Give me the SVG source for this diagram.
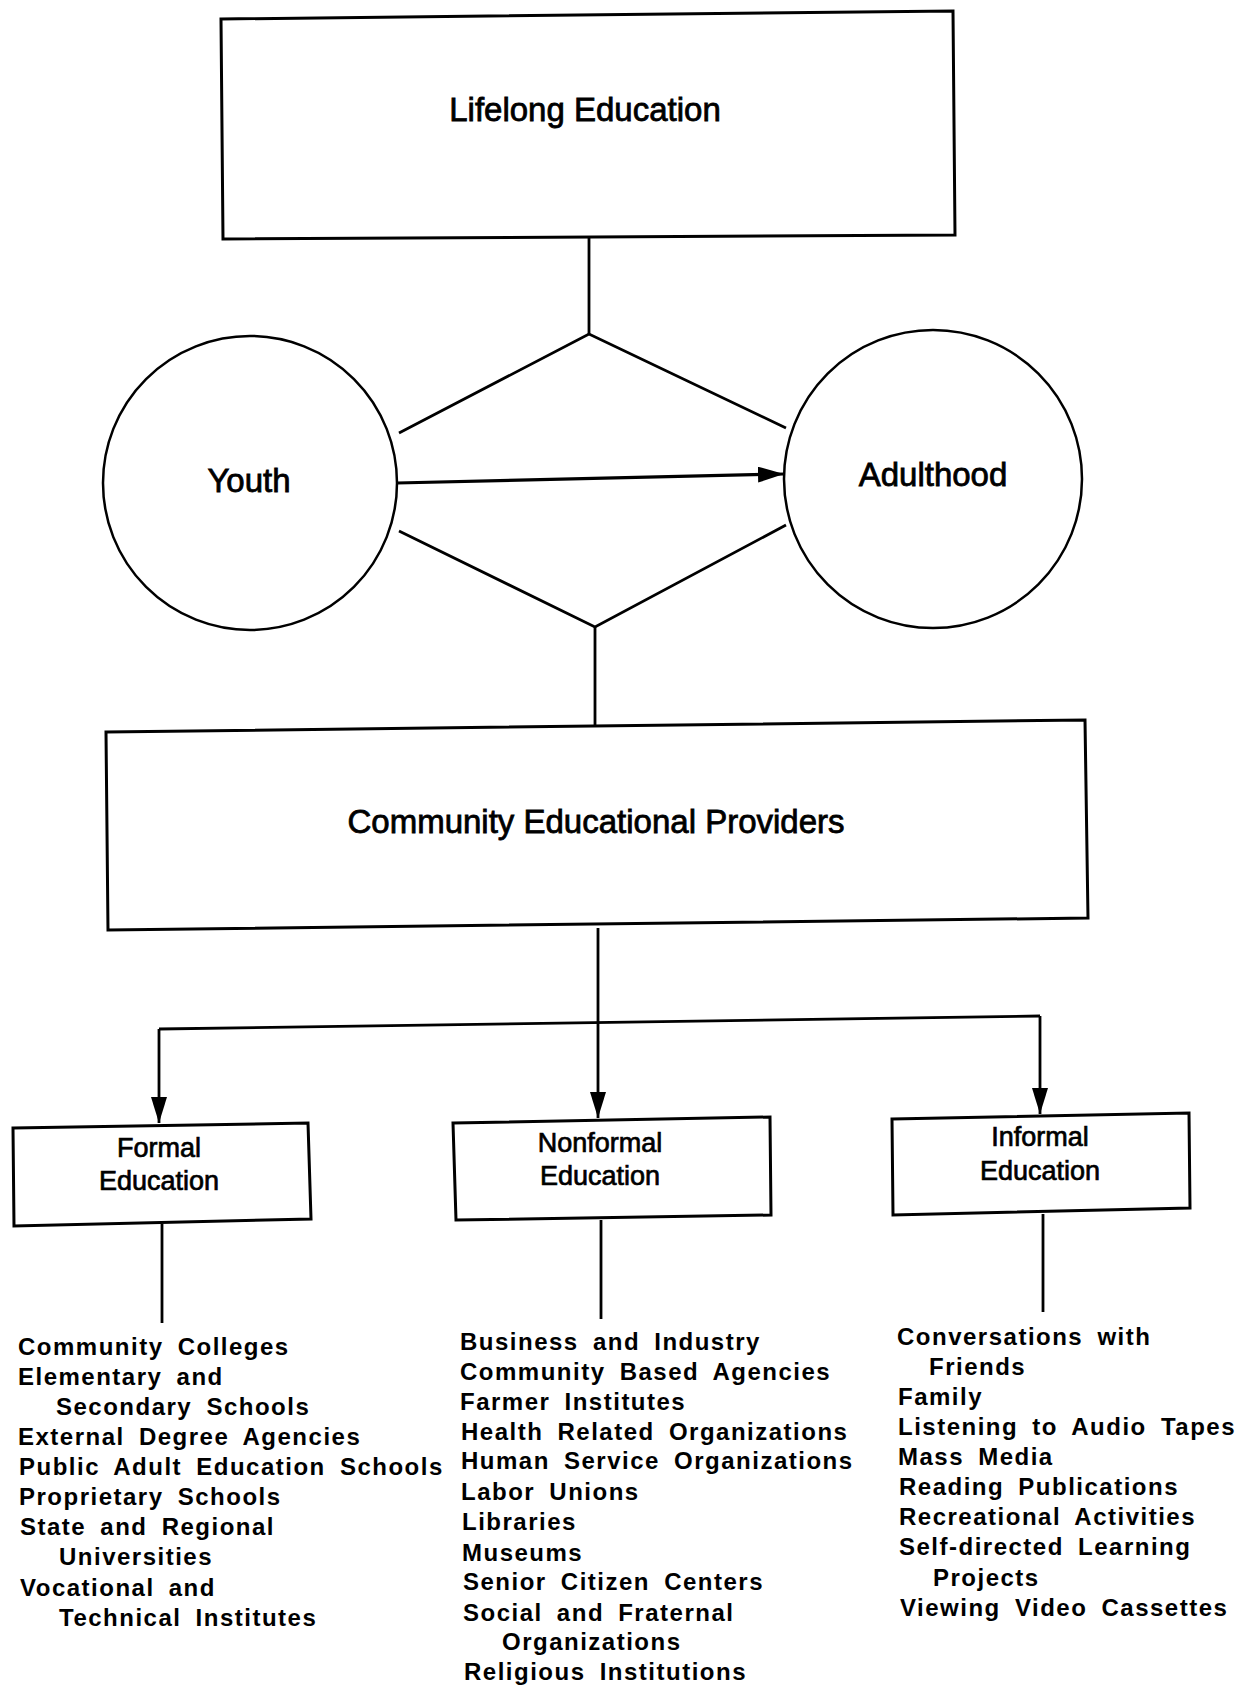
<svg xmlns="http://www.w3.org/2000/svg" width="1243" height="1689" viewBox="0 0 1243 1689">
<style>
.box{fill:#fff;stroke:#000;stroke-width:3}
.circ{fill:#fff;stroke:#000;stroke-width:2.5}
.lbl{font-family:"Liberation Sans",Arial,sans-serif;font-size:33px;fill:#000;text-anchor:middle;stroke:#000;stroke-width:0.8}
.sub{font-family:"Liberation Sans",Arial,sans-serif;font-size:27px;fill:#000;text-anchor:middle;stroke:#000;stroke-width:0.7}
.list{font-family:"Liberation Sans",Arial,sans-serif;font-size:24px;font-weight:bold;fill:#000;letter-spacing:1.5px;word-spacing:6px}
.con{fill:none;stroke:#000;stroke-width:2.8}
</style>
<defs>
<marker id="arr" markerUnits="userSpaceOnUse" markerWidth="26" markerHeight="16" viewBox="0 0 26 16" refX="26" refY="8" orient="auto">
<path d="M0,0 L26,8 L0,16 z" fill="#000"/>
</marker>
</defs>
<rect width="1243" height="1689" fill="#fff"/>
<g id="connectors">
<path class="con" d="M589,237 L589,334"/>
<path class="con" d="M399,433 L589,334 L786,428"/>
<path class="con" d="M399,531 L595,627 L786,525"/>
<path class="con" d="M595,627 L595,728"/>
<path class="con" style="stroke-width:3.2" d="M397,483 L784,474" marker-end="url(#arr)"/>
<path class="con" d="M598,928 L598,1118" marker-end="url(#arr)"/>
<path class="con" d="M159,1029 L1040,1016"/>
<path class="con" d="M159,1029 L159,1123" marker-end="url(#arr)"/>
<path class="con" d="M1040,1016 L1040,1114" marker-end="url(#arr)"/>
<path class="con" d="M162,1224 L162,1323"/>
<path class="con" d="M601,1220 L601,1319"/>
<path class="con" d="M1043,1214 L1043,1312"/>
</g>
<g id="lifelong">
<polygon class="box" points="221,19 953,11 955,235 223,239"/>
<text class="lbl" x="585" y="121">Lifelong Education</text>
</g>
<g id="youth">
<circle class="circ" cx="250" cy="483" r="147"/>
<text class="lbl" x="249" y="492">Youth</text>
</g>
<g id="adulthood">
<circle class="circ" cx="933" cy="479" r="149"/>
<text class="lbl" x="933" y="486">Adulthood</text>
</g>
<g id="providers">
<polygon class="box" points="106,732 1085,720 1088,918 108,930"/>
<text class="lbl" x="596" y="833">Community Educational Providers</text>
</g>
<g id="formal">
<polygon class="box" points="13,1128 308,1123 311,1219 14,1226"/>
<text class="sub" x="159" y="1157">Formal</text>
<text class="sub" x="159" y="1190">Education</text>
</g>
<g id="nonformal">
<polygon class="box" points="453,1123 770,1117 771,1215 456,1220"/>
<text class="sub" x="600" y="1152">Nonformal</text>
<text class="sub" x="600" y="1185">Education</text>
</g>
<g id="informal">
<polygon class="box" points="892,1119 1189,1113 1190,1208 893,1215"/>
<text class="sub" x="1040" y="1146">Informal</text>
<text class="sub" x="1040" y="1180">Education</text>
</g>
<g id="formal-list" class="list">
<text x="18" y="1355">Community Colleges</text>
<text x="18" y="1385">Elementary and</text>
<text x="56" y="1415">Secondary Schools</text>
<text x="18" y="1445">External Degree Agencies</text>
<text x="19" y="1475">Public Adult Education Schools</text>
<text x="19" y="1505">Proprietary Schools</text>
<text x="20" y="1535">State and Regional</text>
<text x="59" y="1565">Universities</text>
<text x="20" y="1596">Vocational and</text>
<text x="59" y="1626">Technical Institutes</text>
</g>
<g id="nonformal-list" class="list">
<text x="460" y="1350">Business and Industry</text>
<text x="460" y="1380">Community Based Agencies</text>
<text x="460" y="1410">Farmer Institutes</text>
<text x="461" y="1440">Health Related Organizations</text>
<text x="461" y="1469">Human Service Organizations</text>
<text x="461" y="1500">Labor Unions</text>
<text x="462" y="1530">Libraries</text>
<text x="462" y="1561">Museums</text>
<text x="463" y="1590">Senior Citizen Centers</text>
<text x="463" y="1621">Social and Fraternal</text>
<text x="502" y="1650">Organizations</text>
<text x="464" y="1680">Religious Institutions</text>
</g>
<g id="informal-list" class="list">
<text x="897" y="1345">Conversations with</text>
<text x="929" y="1375">Friends</text>
<text x="898" y="1405">Family</text>
<text x="898" y="1435">Listening to Audio Tapes</text>
<text x="898" y="1465">Mass Media</text>
<text x="899" y="1495">Reading Publications</text>
<text x="899" y="1525">Recreational Activities</text>
<text x="899" y="1555">Self-directed Learning</text>
<text x="933" y="1586">Projects</text>
<text x="900" y="1616">Viewing Video Cassettes</text>
</g>
</svg>
